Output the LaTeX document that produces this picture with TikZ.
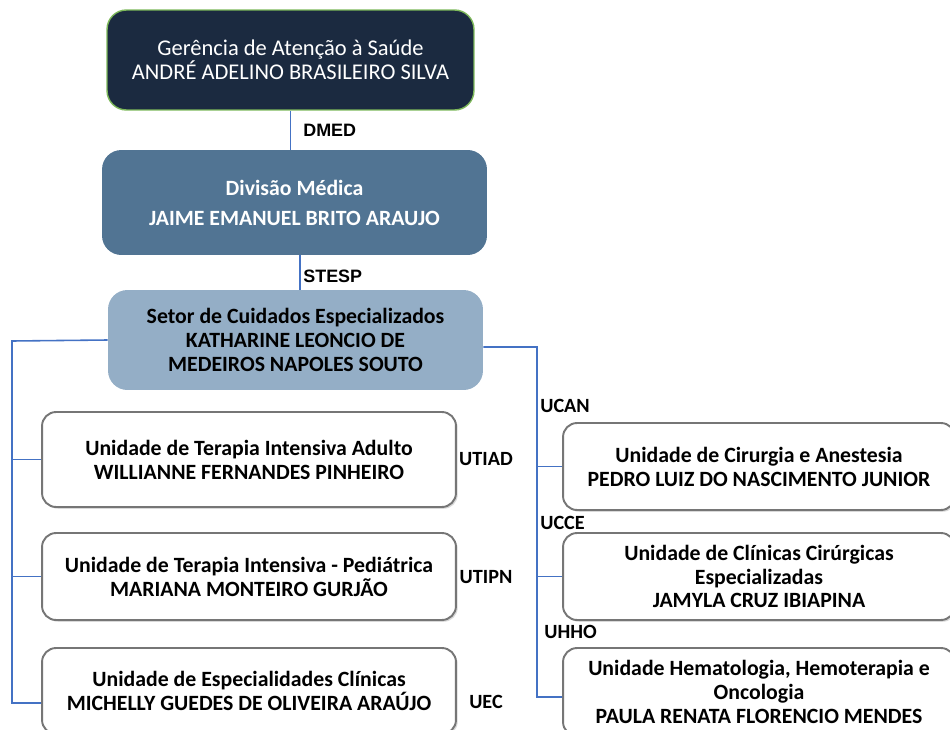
\documentclass[tikz,border=0pt]{standalone}
\usepackage{fontspec}
\setmainfont{Carlito}
\newfontfamily\labfont{Liberation Sans}
\usetikzlibrary{shadows}
\definecolor{navy}{HTML}{1B2A40}
\definecolor{leafgreen}{HTML}{7DB85A}
\definecolor{steel}{HTML}{517493}
\definecolor{pale}{HTML}{94AEC6}
\definecolor{linkblue}{HTML}{4472C4}
\definecolor{boxgray}{HTML}{767676}
\begin{document}
\begin{tikzpicture}[x=0.02cm,y=-0.02cm,
  box/.style={rounded corners=11pt,align=center,inner sep=2pt,font=\fontsize{12.4}{13.6}\selectfont\bfseries},
  unit/.style={box,rounded corners=8pt,draw=boxgray,line width=1.1pt,fill=white,
    drop shadow={opacity=.3,shadow xshift=1pt,shadow yshift=-1pt}},
  link/.style={draw=linkblue,line width=.9pt},
  tag/.style={inner sep=0pt,font=\fontsize{11.5}{12}\selectfont\bfseries},
  toptag/.style={inner sep=0pt,anchor=west,font=\labfont\fontsize{10.2}{12}\selectfont\bfseries}]
\useasboundingbox (0,0) rectangle (950,730);
\clip (0,0) rectangle (950,730);
\node[box,fill=navy,draw=leafgreen,line width=.8pt,text=white,font=\fontsize{12.8}{13.6}\selectfont,minimum width=7.34cm,minimum height=2cm]
  (ger) at (290.5,60) {Gerência de Atenção à Saúde\\ANDRÉ ADELINO BRASILEIRO SILVA};
\node[box,fill=steel,text=white,minimum width=7.7cm,minimum height=2.1cm]
  (div) at (294.5,202.5) {Divisão Médica\\[3.4pt]JAIME EMANUEL BRITO ARAUJO};
\node[box,fill=pale,minimum width=7.5cm,minimum height=2cm]
  (set) at (295.5,340) {Setor de Cuidados Especializados\\KATHARINE LEONCIO DE\\MEDEIROS NAPOLES SOUTO};
\draw[link] (ger.south) -- (ger.south |- div.north);
\draw[link] ([xshift=3pt]div.south) -- ([xshift=3pt]div.south |- set.north);
\node[toptag] (dmed) at (303,130) {DMED};
\node[toptag] (stesp) at (303,276) {STESP};
% left column
\foreach \n/\y/\h/\ty/\c/\t in {
  l1/459.5/1.9/459/UTIAD/{Unidade de Terapia Intensiva Adulto\\WILLIANNE FERNANDES PINHEIRO},
  l2/576.5/1.74/577/UTIPN/{Unidade de Terapia Intensiva - Pediátrica\\MARIANA MONTEIRO GURJÃO},
  l3/691/1.72/702/UEC/{Unidade de Especialidades Clínicas\\MICHELLY GUEDES DE OLIVEIRA ARAÚJO}} {
  \node[unit,minimum width=8.28cm,minimum height=\h cm] (\n) at (249,\y) {\t};
  \node[tag] (\n tag) at (486,\ty) {\c};
}
% right column
\foreach \n/\y/\h/\tx/\ty/\c/\t in {
  r1/466.5/1.74/540/406/UCAN/{Unidade de Cirurgia e Anestesia\\PEDRO LUIZ DO NASCIMENTO JUNIOR},
  r2/576.5/1.74/540/523/UCCE/{Unidade de Clínicas Cirúrgicas\\Especializadas\\JAMYLA CRUZ IBIAPINA},
  r3/692/1.76/544/632/UHHO/{Unidade Hematologia, Hemoterapia e\\Oncologia\\PAULA RENATA FLORENCIO MENDES}} {
  \node[unit,minimum width=7.84cm,minimum height=\h cm] (\n) at (759,\y) {\t};
  \node[tag,anchor=west] (\n tag) at (\tx,\ty) {\c};
}
\coordinate (lbus) at (12,341);
\coordinate (rbus) at (537,347);
\draw[link] (set.west) -- (lbus) |- ([yshift=-.24cm]l3.west);
\draw[link] (lbus |- l1.west) -- (l1.west);
\draw[link] (lbus |- l2.west) -- (l2.west);
\draw[link] ([yshift=-.14cm]set.east) -- (rbus) |- ([yshift=-.1cm]r3.west);
\draw[link] (rbus |- r1.west) -- (r1.west);
\draw[link] (rbus |- r2.west) -- (r2.west);
\end{tikzpicture}
\end{document}
